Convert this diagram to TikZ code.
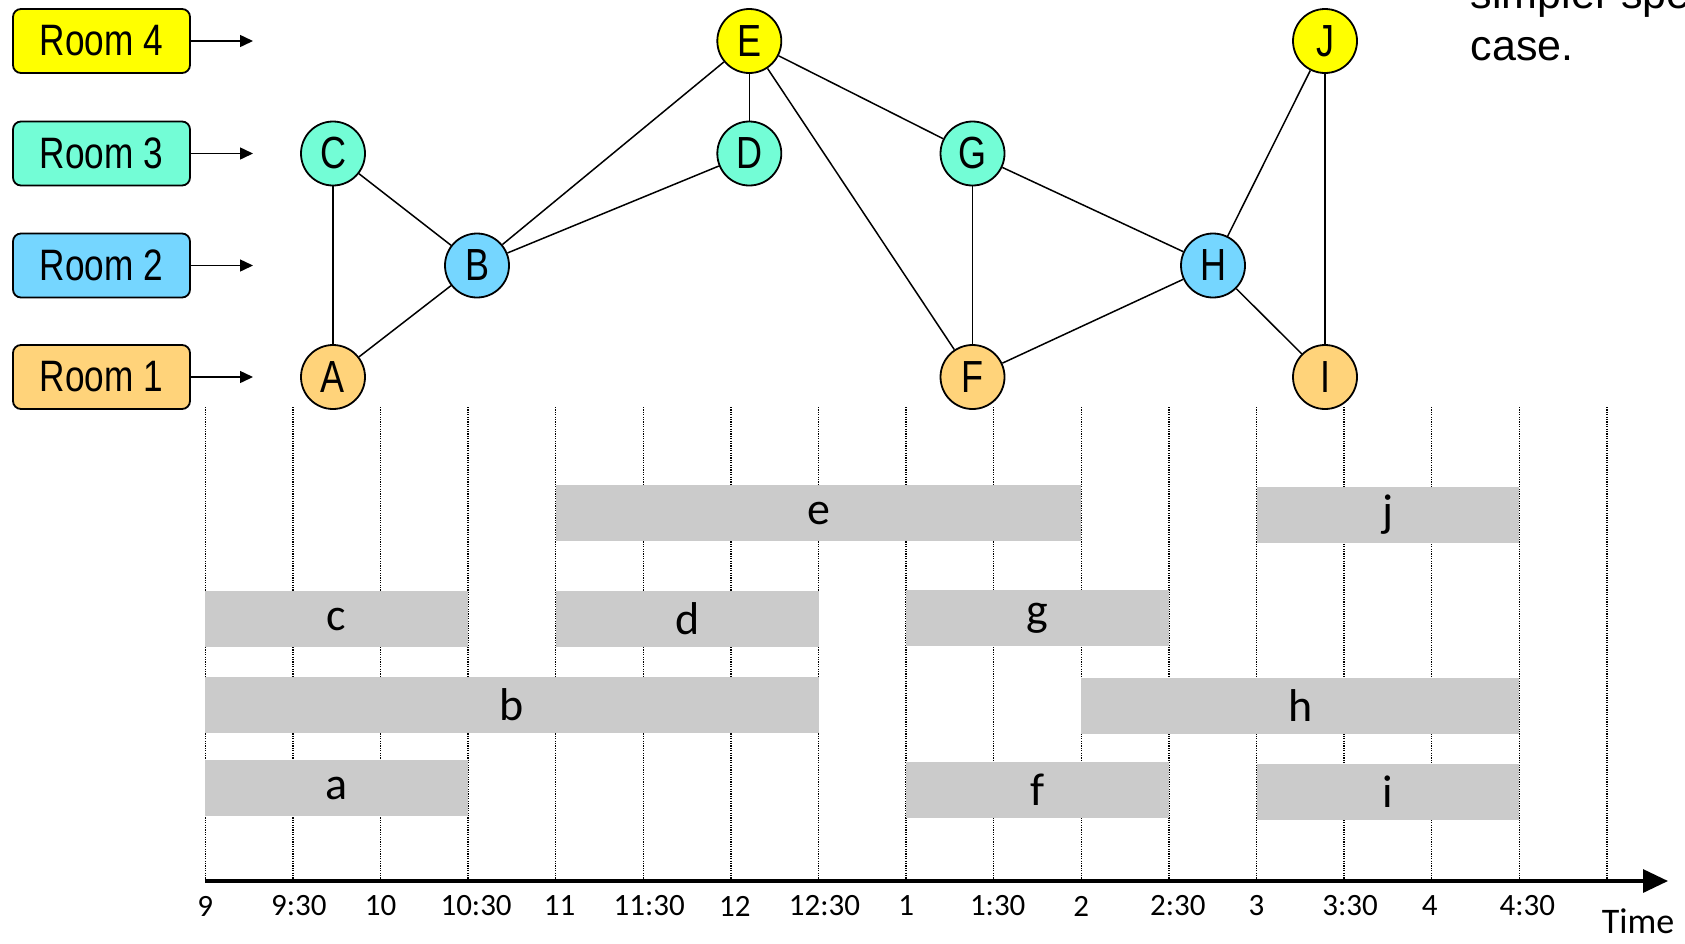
\documentclass[tikz,border=0pt]{standalone}
\usepackage{fontspec}
\setmainfont{Liberation Sans}
\newfontfamily\narrowfont[FakeStretch=0.8]{Liberation Sans}
\newfontfamily\comicfont{Carlito}
\usetikzlibrary{arrows.meta}
\definecolor{roomone}{RGB}{255,211,122}
\definecolor{roomtwo}{RGB}{117,214,255}
\definecolor{roomthree}{RGB}{115,253,214}
\definecolor{roomfour}{RGB}{255,255,0}
\definecolor{barfill}{RGB}{203,203,203}

\begin{document}
\begin{tikzpicture}[x=0.5pt,y=-0.5pt,line width=0.75pt,
			>={Triangle[length=6.5pt,width=6pt]}]
			\tikzstyle{vertex}=[circle,draw,line width=0.9pt,minimum size=32pt,inner sep=0pt,
				font=\narrowfont\fontsize{22.5}{26}\selectfont]
			\tikzstyle{room}=[draw,rounded corners=4pt,line width=0.9pt,minimum width=88.5pt,
				minimum height=32pt,inner sep=0pt,font=\narrowfont\fontsize{22}{26}\selectfont]
			\tikzstyle{task}=[fill=barfill,minimum height=28pt,inner sep=0pt,
				font=\comicfont\fontsize{23}{27}\selectfont]
			\tikzstyle{grid}=[black,line width=0.65pt,dash pattern=on 0.6pt off 0.6pt]
			\tikzstyle{tick}=[font=\comicfont\fontsize{15.5}{18}\selectfont]
			
			\useasboundingbox (0,0) rectangle (1685,943);
			
			% rooms
			\node[room,fill=roomfour]  (R4) at (101.5,41)  {Room 4};
			\node[room,fill=roomthree] (R3) at (101.5,153.5) {Room 3};
			\node[room,fill=roomtwo]   (R2) at (101.5,265.5) {Room 2};
			\node[room,fill=roomone]   (R1) at (101.5,377) {Room 1};
			\coordinate (R4e) at (253,41);
			\coordinate (R3e) at (253,153.5);
			\coordinate (R2e) at (253,265.5);
			\coordinate (R1e) at (253,377);
			\foreach \r in {R1,R2,R3,R4}
				\draw[->] (\r) -- (\r e);
			
			% time grid
			\foreach \t in {0,...,16}
				\draw[grid] ({205.3+87.6*\t},407) -- ({205.3+87.6*\t},881);
			
			% intervals
			\foreach \nm/\s/\e/\y in {e/4/10/513, j/12/15/515, c/0/3/619, d/4/7/619,
					g/8/11/618, b/0/7/704.5, h/10/15/705.5, a/0/3/788, f/8/11/790, i/12/15/791.5}
				\node[task,minimum width={(\e-\s)*43.8pt}] (t\nm) at ({205.3+43.8*(\s+\e)},\y) {\nm};
			
			% axis
			\coordinate (T0) at (205,881);
			\coordinate (T1) at (1668,881);
			\draw[line width=1.6pt,-{Triangle[length=12.5pt,width=11.5pt]}] (T0) -- (T1);
			\foreach \t/\lab/\dx in {0/9/0, 1/9:30/6, 2/10/0, 3/10:30/8, 4/11/4, 5/11:30/6,
					6/12/4, 7/12:30/6, 8/1/0, 9/1:30/4, 10/2/0, 11/2:30/9, 12/3/0, 13/3:30/6,
					14/4/-2, 15/4:30/8}
				\node[tick] (l\t) at ({205.3+87.6*\t+\dx},906) {\lab};
			\node[inner sep=0pt,font=\comicfont\fontsize{18}{21}\selectfont] (time) at (1638,921) {Time};
			
			% conflict graph
			\node[vertex,fill=roomone]   (A) at (333,377)    {A};
			\node[vertex,fill=roomthree] (C) at (333,153.5)  {C};
			\node[vertex,fill=roomtwo]   (B) at (477,265.5)  {B};
			\node[vertex,fill=roomfour]  (E) at (749.3,41)   {E};
			\node[vertex,fill=roomthree] (D) at (749.3,153.5) {D};
			\node[vertex,fill=roomthree] (G) at (972.5,153.5) {G};
			\node[vertex,fill=roomone]   (F) at (972.5,377)  {F};
			\node[vertex,fill=roomtwo]   (H) at (1213,265.5) {H};
			\node[vertex,fill=roomfour]  (J) at (1325,41)    {J};
			\node[vertex,fill=roomone]   (I) at (1325,377)   {I};
			
			\path
			(C) edge (A)
			(C) edge (B)
			(A) edge (B)
			(B) edge (E)
			(B) edge (D)
			(E) edge (D)
			(E) edge (G)
			(E) edge (F)
			(G) edge (F)
			(G) edge (H)
			(F) edge (H)
			(H) edge (J)
			(H) edge (I)
			(J) edge (I);
			
			\node[anchor=base west,inner sep=0pt,font=\fontsize{21.5}{26}\selectfont] (note1) at (1470,8) {simpler special};
			\node[anchor=base west,inner sep=0pt,font=\fontsize{21.5}{26}\selectfont] (note2) at (1470,60) {case.};
\end{tikzpicture}
\end{document}
